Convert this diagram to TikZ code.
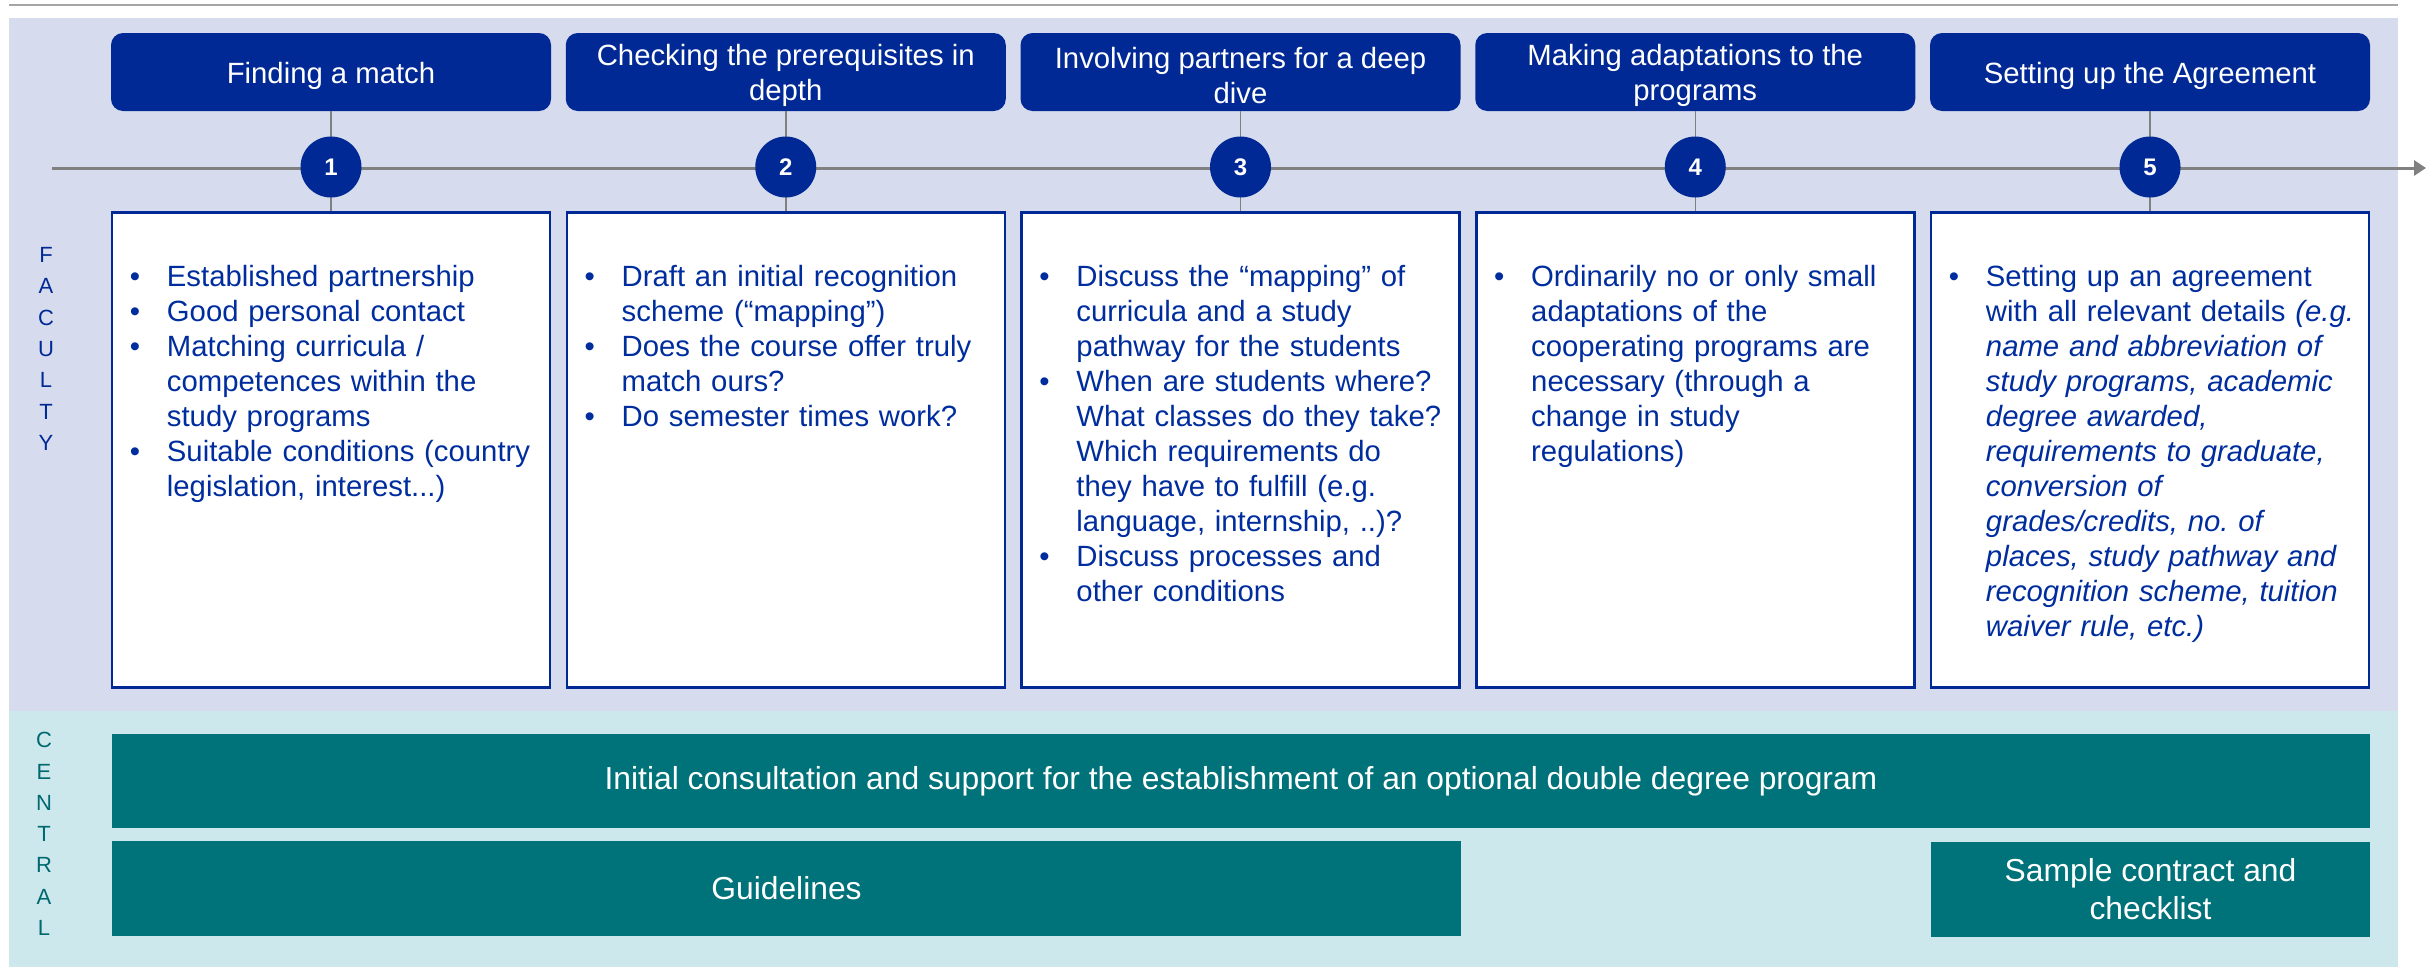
\documentclass[tikz,border=0pt]{standalone}
\usepackage{fontspec}
\setmainfont{Liberation Sans}
\usetikzlibrary{arrows.meta}
\definecolor{hblue}{RGB}{0,41,150}
\definecolor{tblue}{RGB}{0,45,158}
\definecolor{bandF}{RGB}{214,220,238}
\definecolor{bandC}{RGB}{204,232,236}
\definecolor{tealbox}{RGB}{0,114,122}
\definecolor{tealtxt}{RGB}{0,105,112}
\definecolor{tlgray}{RGB}{128,128,128}
\definecolor{topgray}{RGB}{165,165,165}
\newcommand{\myitemfont}{\fontsize{29.3}{35}\selectfont}
\newcommand{\myhdrfont}{\fontsize{29.3}{35}\selectfont}
\newcommand{\mycenfont}{\fontsize{31.8}{38}\selectfont}
\newcommand{\mysidefont}{\fontsize{22}{31.3}\selectfont}
\newcommand{\mynumfont}{\fontsize{24}{28}\selectfont\bfseries}
\newcommand{\bitem}[1]{\makebox[37pt][l]{\textbullet}#1}
\newcommand{\contline}{\hspace*{37pt}}
\tikzset{
  hdr/.style={rounded corners=12pt, fill=hblue, minimum width=440pt, minimum height=78pt, inner sep=0pt},
  hdrtxt/.style={text=white, align=center, font=\myhdrfont, inner sep=0pt, yshift=-3.5pt},
  cbox/.style={draw=hblue, line width=2.5pt, fill=white, minimum width=438pt, minimum height=475pt, inner sep=0pt},
  vline/.style={draw=tlgray, line width=1.5pt},
  tline/.style={draw=tlgray, line width=3pt, -{Triangle[length=12pt,width=15pt]}},
  num/.style={circle, fill=hblue, text=white, minimum size=61pt, inner sep=0pt, font=\mynumfont},
  itxt/.style={anchor=base west, text width=430pt, align=left, inner sep=0pt, font=\myitemfont, text=tblue},
  tbox/.style={fill=tealbox, text=white, inner sep=0pt, align=center, font=\mycenfont},
  sidelbl/.style={align=center, inner sep=0pt, font=\mysidefont}
}
\begin{document}
\begin{tikzpicture}[x=1pt,y=-1pt]
\useasboundingbox (0,0) rectangle (2427,967);
% bands
\fill[bandF] (9,18) rectangle (2398,711);
\fill[bandC] (9,711) rectangle (2398,967);
\draw[topgray, line width=2pt] (9,5) -- (2398,5);
% side labels
\node[sidelbl, text=hblue] (fac) at (46,349) {F\\A\\C\\U\\L\\T\\Y};
\node[sidelbl, text=tealtxt] (cen) at (44,834) {C\\E\\N\\T\\R\\A\\L};
% headers and content boxes
\foreach \i/\lbl in {1/{Finding a match},2/{Checking the prerequisites in\\depth},3/{Involving partners for a deep\\dive},4/{Making adaptations to the\\programs},5/{Setting up the Agreement}}{
  \pgfmathsetmacro{\cx}{331+454.75*(\i-1)}
  \node[hdr, label={[hdrtxt]center:{\lbl}}] (h\i) at (\cx,72) {};
  \node[cbox] (b\i) at (\cx,450) {};
}
% connectors
\foreach \i in {1,...,5}{
  \draw[vline] (h\i.south) -- (b\i.north);
}
\coordinate (tls) at (52,168);
\coordinate (tle) at (2426,168);
\draw[tline] (tls) -- (tle);
\foreach \i in {1,...,5}{
  \pgfmathsetmacro{\cx}{331+454.75*(\i-1)}
  \node[num] (n\i) at (\cx,167) {\i};
}
% content texts
\node[itxt] (t1) at ([xshift=19pt,yshift=-75pt]b1.north west) {%
\bitem{Established partnership}\\
\bitem{Good personal contact}\\
\bitem{Matching curricula /}\\
\contline competences within the\\
\contline study programs\\
\bitem{Suitable conditions (country}\\
\contline legislation, interest...)};
\node[itxt] (t2) at ([xshift=19pt,yshift=-75pt]b2.north west) {%
\bitem{Draft an initial recognition}\\
\contline scheme (“mapping”)\\
\bitem{Does the course offer truly}\\
\contline match ours?\\
\bitem{Do semester times work?}};
\node[itxt] (t3) at ([xshift=19pt,yshift=-75pt]b3.north west) {%
\bitem{Discuss the “mapping” of}\\
\contline curricula and a study\\
\contline pathway for the students\\
\bitem{When are students where?}\\
\contline What classes do they take?\\
\contline Which requirements do\\
\contline they have to fulfill (e.g.\\
\contline language, internship, ..)?\\
\bitem{Discuss processes and}\\
\contline other conditions};
\node[itxt] (t4) at ([xshift=19pt,yshift=-75pt]b4.north west) {%
\bitem{Ordinarily no or only small}\\
\contline adaptations of the\\
\contline cooperating programs are\\
\contline necessary (through a\\
\contline change in study\\
\contline regulations)};
\node[itxt] (t5) at ([xshift=19pt,yshift=-75pt]b5.north west) {%
\bitem{Setting up an agreement}\\
\contline with all relevant details \textit{(e.g.}\\
\contline\textit{name and abbreviation of}\\
\contline\textit{study programs, academic}\\
\contline\textit{degree awarded,}\\
\contline\textit{requirements to graduate,}\\
\contline\textit{conversion of}\\
\contline\textit{grades/credits, no.\ of}\\
\contline\textit{places, study pathway and}\\
\contline\textit{recognition scheme, tuition}\\
\contline\textit{waiver rule, etc.)}};
% central boxes
\node[tbox, minimum width=2258pt, minimum height=94pt] (c1) at (1241,781) {Initial consultation and support for the establishment of an optional double degree program};
\node[tbox, minimum width=1349pt, minimum height=95pt] (c2) at (786.5,888.5) {Guidelines};
\node[tbox, minimum width=439pt, minimum height=95pt] (c3) at (2150.5,889.5) {Sample contract and\\checklist};
\end{tikzpicture}
\end{document}
